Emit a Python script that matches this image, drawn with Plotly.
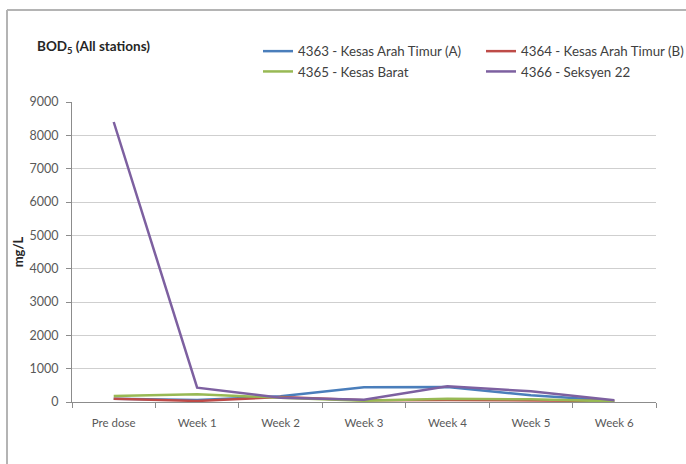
import plotly.graph_objects as go

# Sampling occasions
categories = ["Pre dose", "Week 1", "Week 2", "Week 3", "Week 4", "Week 5", "Week 6"]

# BOD5 (mg/L) per station
st_4363 = [100, 60, 170, 440, 450, 200, 40]
st_4364 = [100, 30, 150, 50, 60, 50, 30]
st_4365 = [180, 230, 130, 40, 100, 80, 20]
st_4366 = [8400, 430, 130, 70, 470, 320, 50]

names = ["4363 - Kesas Arah Timur (A)", "4364 - Kesas Arah Timur (B)",
         "4365 - Kesas Barat", "4366 - Seksyen 22"]
colors = ["#4A7EBB", "#BE4B48", "#98B954", "#7D60A0"]
legend_ids = ["legend", "legend2", "legend", "legend2"]
series = [st_4363, st_4364, st_4365, st_4366]

FONT = "Lato, 'Open Sans', sans-serif"
TICK_COLOR = "#595959"

fig = go.Figure()
for name, vals, col, lg in zip(names, series, colors, legend_ids):
    fig.add_trace(go.Scatter(
        x=categories, y=vals, mode="lines", name=name,
        line=dict(color=col, width=2.5), legend=lg,
    ))

legend_style = dict(
    orientation="v", xanchor="left", yanchor="top",
    bgcolor="rgba(0,0,0,0)", tracegroupgap=0,
    font=dict(family=FONT, size=13.3, color="#404040"),
    itemwidth=30,
)

fig.update_layout(
    width=686, height=464,
    margin=dict(l=72, r=30, t=102, b=62, autoexpand=False),
    paper_bgcolor="white", plot_bgcolor="white",
    font=dict(family=FONT, size=11, color="#404040"),
    showlegend=True,
    legend=dict(x=(258 - 72) / 584, y=1 + (102 - 36) / 300, **legend_style),
    legend2=dict(x=(481 - 72) / 584, y=1 + (102 - 36) / 300, **legend_style),
    xaxis=dict(
        type="category", showgrid=False,
        showline=True, linecolor="#8C8C8C", linewidth=1,
        ticks="outside", tickson="boundaries", ticklen=5, tickcolor="#8C8C8C",
        tickfont=dict(family=FONT, size=11.5, color=TICK_COLOR),
        ticklabelstandoff=10,
        range=[-0.5, 6.5],
    ),
    yaxis=dict(
        range=[0, 9000], dtick=1000, tick0=0,
        showgrid=True, gridcolor="#CFCFCF", gridwidth=1,
        showline=True, linecolor="#8C8C8C", linewidth=1,
        ticks="outside", ticklen=5, tickcolor="#8C8C8C",
        tickfont=dict(family=FONT, size=12.5, color=TICK_COLOR),
        ticklabelstandoff=5,
        zeroline=False,
        title=dict(text="<b>mg/L</b>", standoff=2,
                   font=dict(family=FONT, size=13, color="#262626")),
    ),
    annotations=[dict(
        text="<b>BOD<sub>5</sub> (All stations)</b>",
        xref="paper", yref="paper",
        x=(35 - 72) / 584, y=1 + (102 - 47) / 300,
        xanchor="left", yanchor="middle", showarrow=False,
        font=dict(family=FONT, size=13.5, color="#262626"),
    )],
    shapes=[
        # outer frame (top and left edges)
        dict(type="line", xref="paper", yref="paper",
             x0=(7 - 72) / 584, x1=(700 - 72) / 584,
             y0=1 + (102 - 10) / 300, y1=1 + (102 - 10) / 300,
             line=dict(color="#B4B4B4", width=2)),
        dict(type="line", xref="paper", yref="paper",
             x0=(7 - 72) / 584, x1=(7 - 72) / 584,
             y0=1 + (102 - 10) / 300, y1=-(80) / 300,
             line=dict(color="#B4B4B4", width=2)),
    ],
)

fig.write_html("out.html")
